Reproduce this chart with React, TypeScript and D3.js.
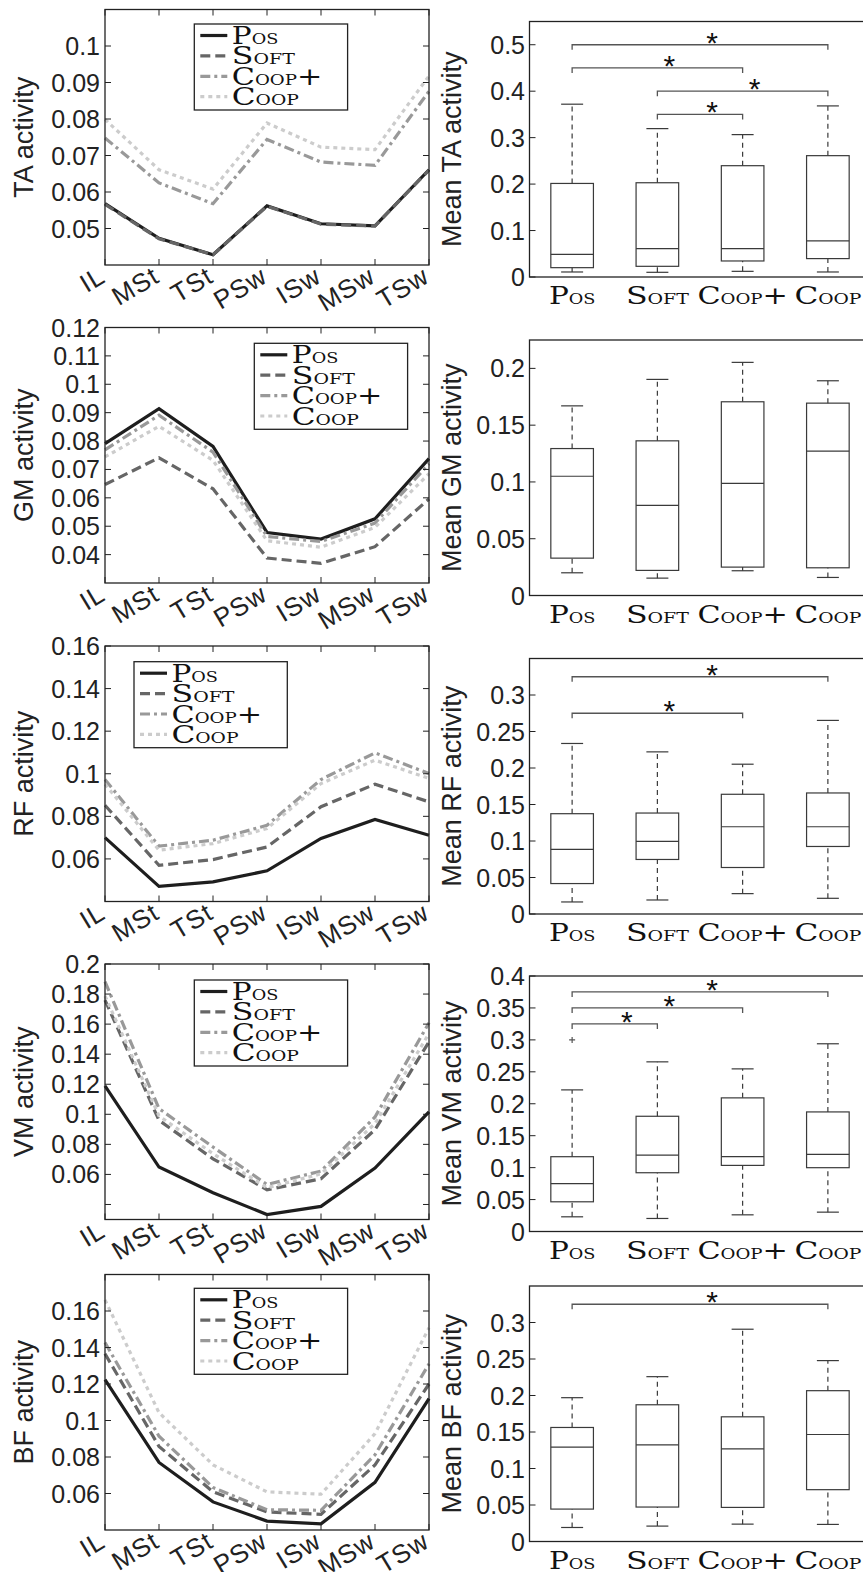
import * as d3 from "d3";

const phases = ["IL", "MSt", "TSt", "PSw", "ISw", "MSw", "TSw"];
const methods = ["Pos", "Soft", "Coop+", "Coop"];

// mean activity per gait phase
const taPos = [0.0568, 0.0473, 0.0428, 0.0562, 0.0513, 0.0507, 0.0661];
const taSoft = [0.0566, 0.0472, 0.0428, 0.0561, 0.0512, 0.0507, 0.066];
const taCoopPlus = [0.0748, 0.0625, 0.0568, 0.0744, 0.0682, 0.0673, 0.0876];
const taCoop = [0.0799, 0.0661, 0.0608, 0.0789, 0.0723, 0.0716, 0.0918];

const gmPos = [0.0791, 0.0914, 0.0781, 0.0478, 0.0455, 0.0526, 0.0738];
const gmSoft = [0.0647, 0.0741, 0.0632, 0.0388, 0.0369, 0.0428, 0.0596];
const gmCoopPlus = [0.0769, 0.0891, 0.0761, 0.0464, 0.0446, 0.0511, 0.072];
const gmCoop = [0.0744, 0.0852, 0.0732, 0.0449, 0.0426, 0.0496, 0.0685];

const rfPos = [0.07, 0.0471, 0.0492, 0.0544, 0.0696, 0.0785, 0.0711];
const rfSoft = [0.0852, 0.057, 0.0597, 0.0656, 0.0845, 0.0951, 0.0868];
const rfCoopPlus = [0.0973, 0.066, 0.0688, 0.0758, 0.0973, 0.1098, 0.1001];
const rfCoop = [0.0951, 0.0641, 0.0672, 0.0743, 0.0954, 0.1064, 0.0978];

const vmPos = [0.1189, 0.0649, 0.0478, 0.0333, 0.0387, 0.0642, 0.1016];
const vmSoft = [0.176, 0.096, 0.0704, 0.0498, 0.0571, 0.0898, 0.1482];
const vmCoopPlus = [0.1882, 0.1038, 0.0782, 0.0533, 0.0622, 0.0982, 0.1609];
const vmCoop = [0.1787, 0.0989, 0.0738, 0.0511, 0.0604, 0.0938, 0.1538];

const bfPos = [0.1224, 0.077, 0.0554, 0.0449, 0.0434, 0.0661, 0.112];
const bfSoft = [0.1366, 0.0858, 0.0609, 0.0499, 0.0486, 0.0757, 0.12];
const bfCoopPlus = [0.1427, 0.0914, 0.0633, 0.0511, 0.0508, 0.0812, 0.131];
const bfCoop = [0.1661, 0.1043, 0.0757, 0.0609, 0.0596, 0.0928, 0.1508];

// boxplot stats per method: [lower whisker, q1, median, q3, upper whisker]
const taBox = [
  [0.0108, 0.0201, 0.0489, 0.2014, 0.372],
  [0.0101, 0.023, 0.0612, 0.2029, 0.3194],
  [0.0122, 0.0345, 0.0612, 0.2396, 0.3065],
  [0.0108, 0.0396, 0.0777, 0.2612, 0.3683],
];
const gmBox = [
  [0.02, 0.0329, 0.105, 0.1294, 0.167],
  [0.0153, 0.0221, 0.0794, 0.1362, 0.1903],
  [0.0218, 0.025, 0.0988, 0.1706, 0.2053],
  [0.0159, 0.0244, 0.1271, 0.1694, 0.1891],
];
const rfBox = [
  [0.0165, 0.0417, 0.0884, 0.1374, 0.2336],
  [0.0192, 0.0747, 0.0994, 0.1383, 0.2221],
  [0.0279, 0.0637, 0.1195, 0.164, 0.2052],
  [0.0215, 0.0925, 0.1195, 0.1658, 0.2652],
];
const vmBox = [
  [0.023, 0.0465, 0.0748, 0.1171, 0.2217],
  [0.0204, 0.092, 0.1197, 0.1804, 0.2656],
  [0.0261, 0.1035, 0.1171, 0.2092, 0.2546],
  [0.0303, 0.0999, 0.1208, 0.1872, 0.2939],
];
const bfBox = [
  [0.0192, 0.0444, 0.1292, 0.1562, 0.197],
  [0.0211, 0.0472, 0.1324, 0.1873, 0.2258],
  [0.0238, 0.0467, 0.1269, 0.1708, 0.2908],
  [0.0234, 0.071, 0.1466, 0.2066, 0.2478],
];
// outliers: [method index, value]
const vmOutliers = [[0, 0.3]];

// significance brackets: [from, to, height]
const taSig = [[0, 3, 0.5], [0, 2, 0.45], [1, 3, 0.4], [1, 2, 0.35]];
const rfSig = [[0, 3, 0.325], [0, 2, 0.275]];
const vmSig = [[0, 3, 0.375], [0, 2, 0.35], [0, 1, 0.325]];
const bfSig = [[0, 3, 0.325]];

// axes
const taTicks = [0.05, 0.06, 0.07, 0.08, 0.09, 0.1];
const gmTicks = [0.04, 0.05, 0.06, 0.07, 0.08, 0.09, 0.1, 0.11, 0.12];
const rfTicks = [0.06, 0.08, 0.1, 0.12, 0.14, 0.16];
const vmTicks = [0.06, 0.08, 0.1, 0.12, 0.14, 0.16, 0.18, 0.2];
const bfTicks = [0.06, 0.08, 0.1, 0.12, 0.14, 0.16];
const taBoxTicks = [0, 0.1, 0.2, 0.3, 0.4, 0.5];
const gmBoxTicks = [0, 0.05, 0.1, 0.15, 0.2];
const rfBoxTicks = [0, 0.05, 0.1, 0.15, 0.2, 0.25, 0.3];
const vmBoxTicks = [0, 0.05, 0.1, 0.15, 0.2, 0.25, 0.3, 0.35, 0.4];
const bfBoxTicks = [0, 0.05, 0.1, 0.15, 0.2, 0.25, 0.3];

const styles = [
  { color: "#1e1e1e", dash: undefined },
  { color: "#666", dash: "10,5" },
  { color: "#999", dash: "10,4,3,4" },
  { color: "#ccc", dash: "4,4" },
];
// rendered width of each small-caps method name
const nameWidth: Record<string, number> = { Pos: 46.5, Soft: 63, "Coop+": 90.5, Coop: 67 };

const sans = "'Liberation Sans', Arial, sans-serif";
const serif = "'DejaVu Serif', serif";
const H = 255.5;
const fmt = (v: number) => String(+v.toFixed(3));

// latex-like small caps: big first letter, small upper-case rest, stretched to width
function SmallCaps({ text, x, y, anchor = "start" }: any) {
  const rest = text.slice(1).replace("+", "");
  const plus = text.endsWith("+");
  return (
    <text
      x={x}
      y={y}
      textAnchor={anchor}
      fontFamily={serif}
      fill="#111"
      textLength={nameWidth[text]}
      lengthAdjust="spacingAndGlyphs"
    >
      <tspan fontSize={25}>{text[0]}</tspan>
      <tspan fontSize={15}>{rest.toUpperCase()}</tspan>
      {plus && <tspan fontSize={25}>+</tspan>}
    </text>
  );
}

function LinePanel({ top, domain, ticks, extraTicks = [], series, name, legend }: any) {
  const x = d3.scalePoint().domain(phases).range([105, 429]);
  const y = d3.scaleLinear().domain(domain).range([top + H, top]);
  const bottom = top + H;
  const line = d3
    .line<number>()
    .x((_, i) => x(phases[i])!)
    .y((d) => y(d));
  const allTicks = [...ticks, ...extraTicks];
  return (
    <g>
      {series.map((s: number[], i: number) => (
        <path
          key={i}
          d={line(s)!}
          fill="none"
          stroke={styles[i].color}
          strokeWidth={3.2}
          strokeDasharray={styles[i].dash}
        />
      ))}
      <rect x={105} y={top} width={324} height={H} fill="none" stroke="#222" strokeWidth={1.3} />
      {allTicks.map((t: number) => (
        <g key={t}>
          <line x1={105} x2={111} y1={y(t)} y2={y(t)} stroke="#222" />
          <line x1={423} x2={429} y1={y(t)} y2={y(t)} stroke="#222" />
        </g>
      ))}
      {ticks.map((t: number) => (
        <text key={t} x={100} y={y(t) + 9} textAnchor="end" fontFamily={sans} fontSize={25} fill="#222">
          {fmt(t)}
        </text>
      ))}
      {phases.map((p) => (
        <g key={p}>
          <line x1={x(p)} x2={x(p)} y1={top} y2={top + 6} stroke="#222" />
          <line x1={x(p)} x2={x(p)} y1={bottom} y2={bottom - 6} stroke="#222" />
          <text
            transform={`translate(${x(p)! + 2},${bottom + 16}) rotate(-31)`}
            textAnchor="end"
            fontFamily={sans}
            fontSize={26}
            letterSpacing={1}
            fill="#222"
          >
            {p}
          </text>
        </g>
      ))}
      <text
        transform={`translate(33,${top + H / 2}) rotate(-90)`}
        textAnchor="middle"
        fontFamily={sans}
        fontSize={27}
        fill="#222"
      >
        {name + " activity"}
      </text>
      <g transform={`translate(${legend[0]},${legend[1]})`}>
        <rect width={153.3} height={86} fill="white" stroke="#222" strokeWidth={1.3} />
        {methods.map((m, i) => (
          <g key={m} transform={`translate(0,${20 + i * 20.4})`}>
            <line
              x1={6}
              x2={33}
              y1={-8.5}
              y2={-8.5}
              stroke={styles[i].color}
              strokeWidth={3.2}
              strokeDasharray={styles[i].dash}
            />
            <SmallCaps text={m} x={37.5} y={0} />
          </g>
        ))}
      </g>
    </g>
  );
}

function BoxPanel({ top, domain, ticks, boxes, sig = [], outliers = [], name }: any) {
  const x = d3.scaleLinear().domain([0.5, 4.5]).range([529.5, 870.5]);
  const y = d3.scaleLinear().domain(domain).range([top + H, top]);
  const bottom = top + H;
  const bw = 21.3;
  const cw = 11;
  return (
    <g>
      <rect x={529.5} y={top} width={341} height={H} fill="none" stroke="#222" strokeWidth={1.3} />
      {ticks.map((t: number) => (
        <g key={t}>
          <line x1={529.5} x2={535.5} y1={y(t)} y2={y(t)} stroke="#222" />
          <text x={525} y={y(t) + 9} textAnchor="end" fontFamily={sans} fontSize={25} fill="#222">
            {fmt(t)}
          </text>
        </g>
      ))}
      {boxes.map((b: number[], i: number) => {
        const cx = x(i + 1);
        return (
          <g key={i} stroke="#3a3a3a" strokeWidth={1.2} fill="none">
            <line x1={cx} x2={cx} y1={y(b[3])} y2={y(b[4])} strokeDasharray="5,4" />
            <line x1={cx} x2={cx} y1={y(b[0])} y2={y(b[1])} strokeDasharray="5,4" />
            <line x1={cx - cw} x2={cx + cw} y1={y(b[4])} y2={y(b[4])} />
            <line x1={cx - cw} x2={cx + cw} y1={y(b[0])} y2={y(b[0])} />
            <rect x={cx - bw} y={y(b[3])} width={bw * 2} height={y(b[1]) - y(b[3])} />
            <line x1={cx - bw} x2={cx + bw} y1={y(b[2])} y2={y(b[2])} />
          </g>
        );
      })}
      {outliers.map((o: number[], i: number) => (
        <path
          key={i}
          d={`M${x(o[0] + 1) - 3},${y(o[1])}h6M${x(o[0] + 1)},${y(o[1]) - 3}v6`}
          stroke="#555"
          strokeWidth={1.2}
        />
      ))}
      {sig.map((s: number[], i: number) => {
        const x1 = x(s[0] + 1);
        const x2 = x(s[1] + 1);
        const yy = y(s[2]);
        return (
          <g key={i}>
            <path d={`M${x1},${yy + 5}V${yy}H${x2}V${yy + 5}`} fill="none" stroke="#555" strokeWidth={1.3} />
            <text x={(x1 + x2) / 2 + 12} y={yy + 8} textAnchor="middle" fontFamily={sans} fontSize={30} fill="#111">
              *
            </text>
          </g>
        );
      })}
      {methods.map((m, i) => (
        <SmallCaps key={m} text={m} x={x(i + 1)} y={bottom + 27} anchor="middle" />
      ))}
      <text
        transform={`translate(461,${top + H / 2}) rotate(-90)`}
        textAnchor="middle"
        fontFamily={sans}
        fontSize={27}
        fill="#222"
      >
        {"Mean " + name + " activity"}
      </text>
    </g>
  );
}

export default function App() {
  return (
    <svg width={863} height={1572} style={{ position: "absolute", left: 0, top: 0, background: "white" }}>
      <LinePanel top={9.5} domain={[0.04, 0.11]} ticks={taTicks} series={[taPos, taSoft, taCoopPlus, taCoop]} name="TA" legend={[194.3, 24]} />
      <LinePanel top={327.5} domain={[0.03, 0.12]} ticks={gmTicks} series={[gmPos, gmSoft, gmCoopPlus, gmCoop]} name="GM" legend={[254.3, 343.3]} />
      <LinePanel top={646} domain={[0.04, 0.16]} ticks={rfTicks} series={[rfPos, rfSoft, rfCoopPlus, rfCoop]} name="RF" legend={[134, 661.7]} />
      <LinePanel top={964} domain={[0.03, 0.2]} ticks={vmTicks} extraTicks={[0.04]} series={[vmPos, vmSoft, vmCoopPlus, vmCoop]} name="VM" legend={[194.3, 980]} />
      <LinePanel top={1274.5} domain={[0.04, 0.18]} ticks={bfTicks} series={[bfPos, bfSoft, bfCoopPlus, bfCoop]} name="BF" legend={[194.3, 1288.3]} />

      <BoxPanel top={21.5} domain={[0, 0.55]} ticks={taBoxTicks} boxes={taBox} sig={taSig} name="TA" />
      <BoxPanel top={340} domain={[0, 0.225]} ticks={gmBoxTicks} boxes={gmBox} name="GM" />
      <BoxPanel top={658.5} domain={[0, 0.35]} ticks={rfBoxTicks} boxes={rfBox} sig={rfSig} name="RF" />
      <BoxPanel top={976} domain={[0, 0.4]} ticks={vmBoxTicks} boxes={vmBox} sig={vmSig} outliers={vmOutliers} name="VM" />
      <BoxPanel top={1286} domain={[0, 0.35]} ticks={bfBoxTicks} boxes={bfBox} sig={bfSig} name="BF" />
    </svg>
  );
}
